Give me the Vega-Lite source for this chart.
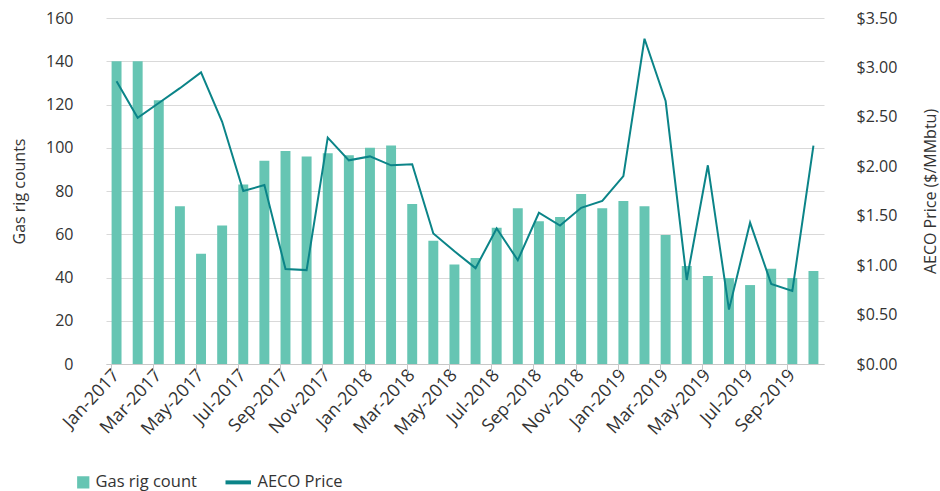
{
  "$schema": "https://vega.github.io/schema/vega-lite/v6.json",
  "width": 718,
  "height": 346,
  "autosize": {"type": "none"},
  "padding": {"left": 106, "top": 18, "right": 116, "bottom": 127},
  "background": "white",
  "config": {
    "font": "Open Sans",
    "view": {"stroke": null},
    "axis": {"labelFont": "Open Sans", "titleFont": "Open Sans", "labelColor": "#333333", "titleColor": "#333333", "labelFontSize": 16, "titleFontSize": 16, "titleFontWeight": "normal"},
    "legend": {"labelFont": "Open Sans", "labelFontSize": 16.5, "labelColor": "#333333"}
  },
  "data": {
    "values": [
      {"month": "Jan-2017", "rigs": 140, "price": 2.86},
      {"month": "Feb-2017", "rigs": 140, "price": 2.49},
      {"month": "Mar-2017", "rigs": 122, "price": 2.64},
      {"month": "Apr-2017", "rigs": 73, "price": 2.79},
      {"month": "May-2017", "rigs": 51, "price": 2.95},
      {"month": "Jun-2017", "rigs": 64, "price": 2.45},
      {"month": "Jul-2017", "rigs": 83, "price": 1.75},
      {"month": "Aug-2017", "rigs": 94, "price": 1.81},
      {"month": "Sep-2017", "rigs": 98.5, "price": 0.96},
      {"month": "Oct-2017", "rigs": 96, "price": 0.95},
      {"month": "Nov-2017", "rigs": 97.5, "price": 2.29},
      {"month": "Dec-2017", "rigs": 96.5, "price": 2.06},
      {"month": "Jan-2018", "rigs": 100, "price": 2.10},
      {"month": "Feb-2018", "rigs": 101, "price": 2.01},
      {"month": "Mar-2018", "rigs": 74, "price": 2.02},
      {"month": "Apr-2018", "rigs": 57, "price": 1.32},
      {"month": "May-2018", "rigs": 46, "price": 1.14},
      {"month": "Jun-2018", "rigs": 49, "price": 0.97},
      {"month": "Jul-2018", "rigs": 63, "price": 1.37},
      {"month": "Aug-2018", "rigs": 72, "price": 1.05},
      {"month": "Sep-2018", "rigs": 66, "price": 1.53},
      {"month": "Oct-2018", "rigs": 68, "price": 1.40},
      {"month": "Nov-2018", "rigs": 78.6, "price": 1.58},
      {"month": "Dec-2018", "rigs": 72, "price": 1.65},
      {"month": "Jan-2019", "rigs": 75.4, "price": 1.90},
      {"month": "Feb-2019", "rigs": 73, "price": 3.29},
      {"month": "Mar-2019", "rigs": 59.7, "price": 2.66},
      {"month": "Apr-2019", "rigs": 45.3, "price": 0.85},
      {"month": "May-2019", "rigs": 40.7, "price": 2.01},
      {"month": "Jun-2019", "rigs": 39.8, "price": 0.55},
      {"month": "Jul-2019", "rigs": 36.5, "price": 1.43},
      {"month": "Aug-2019", "rigs": 44, "price": 0.81},
      {"month": "Sep-2019", "rigs": 39.8, "price": 0.74},
      {"month": "Oct-2019", "rigs": 43, "price": 2.21}
    ]
  },
  "encoding": {
    "x": {
      "field": "month",
      "type": "ordinal",
      "sort": null,
      "scale": {"paddingInner": 0.53, "paddingOuter": 0.265},
      "title": null
    }
  },
  "layer": [
    {
      "mark": {"type": "bar", "color": "#66c5b3"},
      "encoding": {
        "x": {
          "field": "month", "type": "ordinal", "sort": null, "title": null,
          "axis": {
            "orient": "bottom",
            "values": ["Jan-2017","Mar-2017","May-2017","Jul-2017","Sep-2017","Nov-2017","Jan-2018","Mar-2018","May-2018","Jul-2018","Sep-2018","Nov-2018","Jan-2019","Mar-2019","May-2019","Jul-2019","Sep-2019"],
            "labelAngle": -47,
            "labelFontSize": 18,
            "ticks": false,
            "domain": true,
            "domainColor": "#c8c8c8",
            "labelPadding": 8,
            "grid": false
          }
        },
        "y": {
          "field": "rigs", "type": "quantitative",
          "scale": {"domain": [0, 160]},
          "title": "Gas rig counts",
          "axis": {"values": [0,20,40,60,80,100,120,140,160], "ticks": false, "domain": false, "grid": true, "gridColor": "#d9d9d9", "labelPadding": 33, "titlePadding": 18}
        },
        "color": {
          "datum": "Gas rig count",
          "type": "nominal",
          "scale": {"domain": ["Gas rig count", "AECO Price"], "range": ["#66c5b3", "#0b8488"]},
          "legend": {
            "title": null,
            "orient": "none",
            "direction": "horizontal",
            "legendX": -31,
            "legendY": 456,
            "symbolSize": 150,
            "columnPadding": 20,
            "labelOffset": 4,
            "encode": {
              "symbols": {
                "update": {
                  "shape": {"signal": "datum.label === 'AECO Price' ? 'stroke' : 'square'"},
                  "size": {"signal": "datum.label === 'AECO Price' ? 650 : 150"},
                  "strokeWidth": {"signal": "datum.label === 'AECO Price' ? 4 : 0"}
                }
              },
              "labels": {
                "update": {
                  "dx": {"signal": "datum.label === 'AECO Price' ? 7 : 0"}
                }
              }
            }
          }
        }
      }
    },
    {
      "mark": {"type": "line", "color": "#0b8488", "strokeWidth": 2},
      "encoding": {
        "x": {
          "field": "month", "type": "ordinal", "sort": null, "title": null,
          "axis": {
            "orient": "bottom",
            "values": ["Jan-2017","Mar-2017","May-2017","Jul-2017","Sep-2017","Nov-2017","Jan-2018","Mar-2018","May-2018","Jul-2018","Sep-2018","Nov-2018","Jan-2019","Mar-2019","May-2019","Jul-2019","Sep-2019"],
            "labels": false,
            "ticks": true,
            "tickColor": "#c8c8c8",
            "tickSize": 8,
            "bandPosition": 0,
            "domain": false,
            "grid": false
          }
        },
        "y": {
          "field": "price", "type": "quantitative",
          "scale": {"domain": [0, 3.5]},
          "title": "AECO Price ($/MMbtu)",
          "axis": {"orient": "right", "format": "$.2f", "values": [0,0.5,1,1.5,2,2.5,3,3.5], "ticks": false, "domain": false, "grid": false, "labelPadding": 32, "titlePadding": 42, "titleAngle": 270}
        },
        "color": {"datum": "AECO Price", "type": "nominal"}
      }
    }
  ],
  "resolve": {"scale": {"y": "independent"}, "axis": {"x": "independent"}}
}
